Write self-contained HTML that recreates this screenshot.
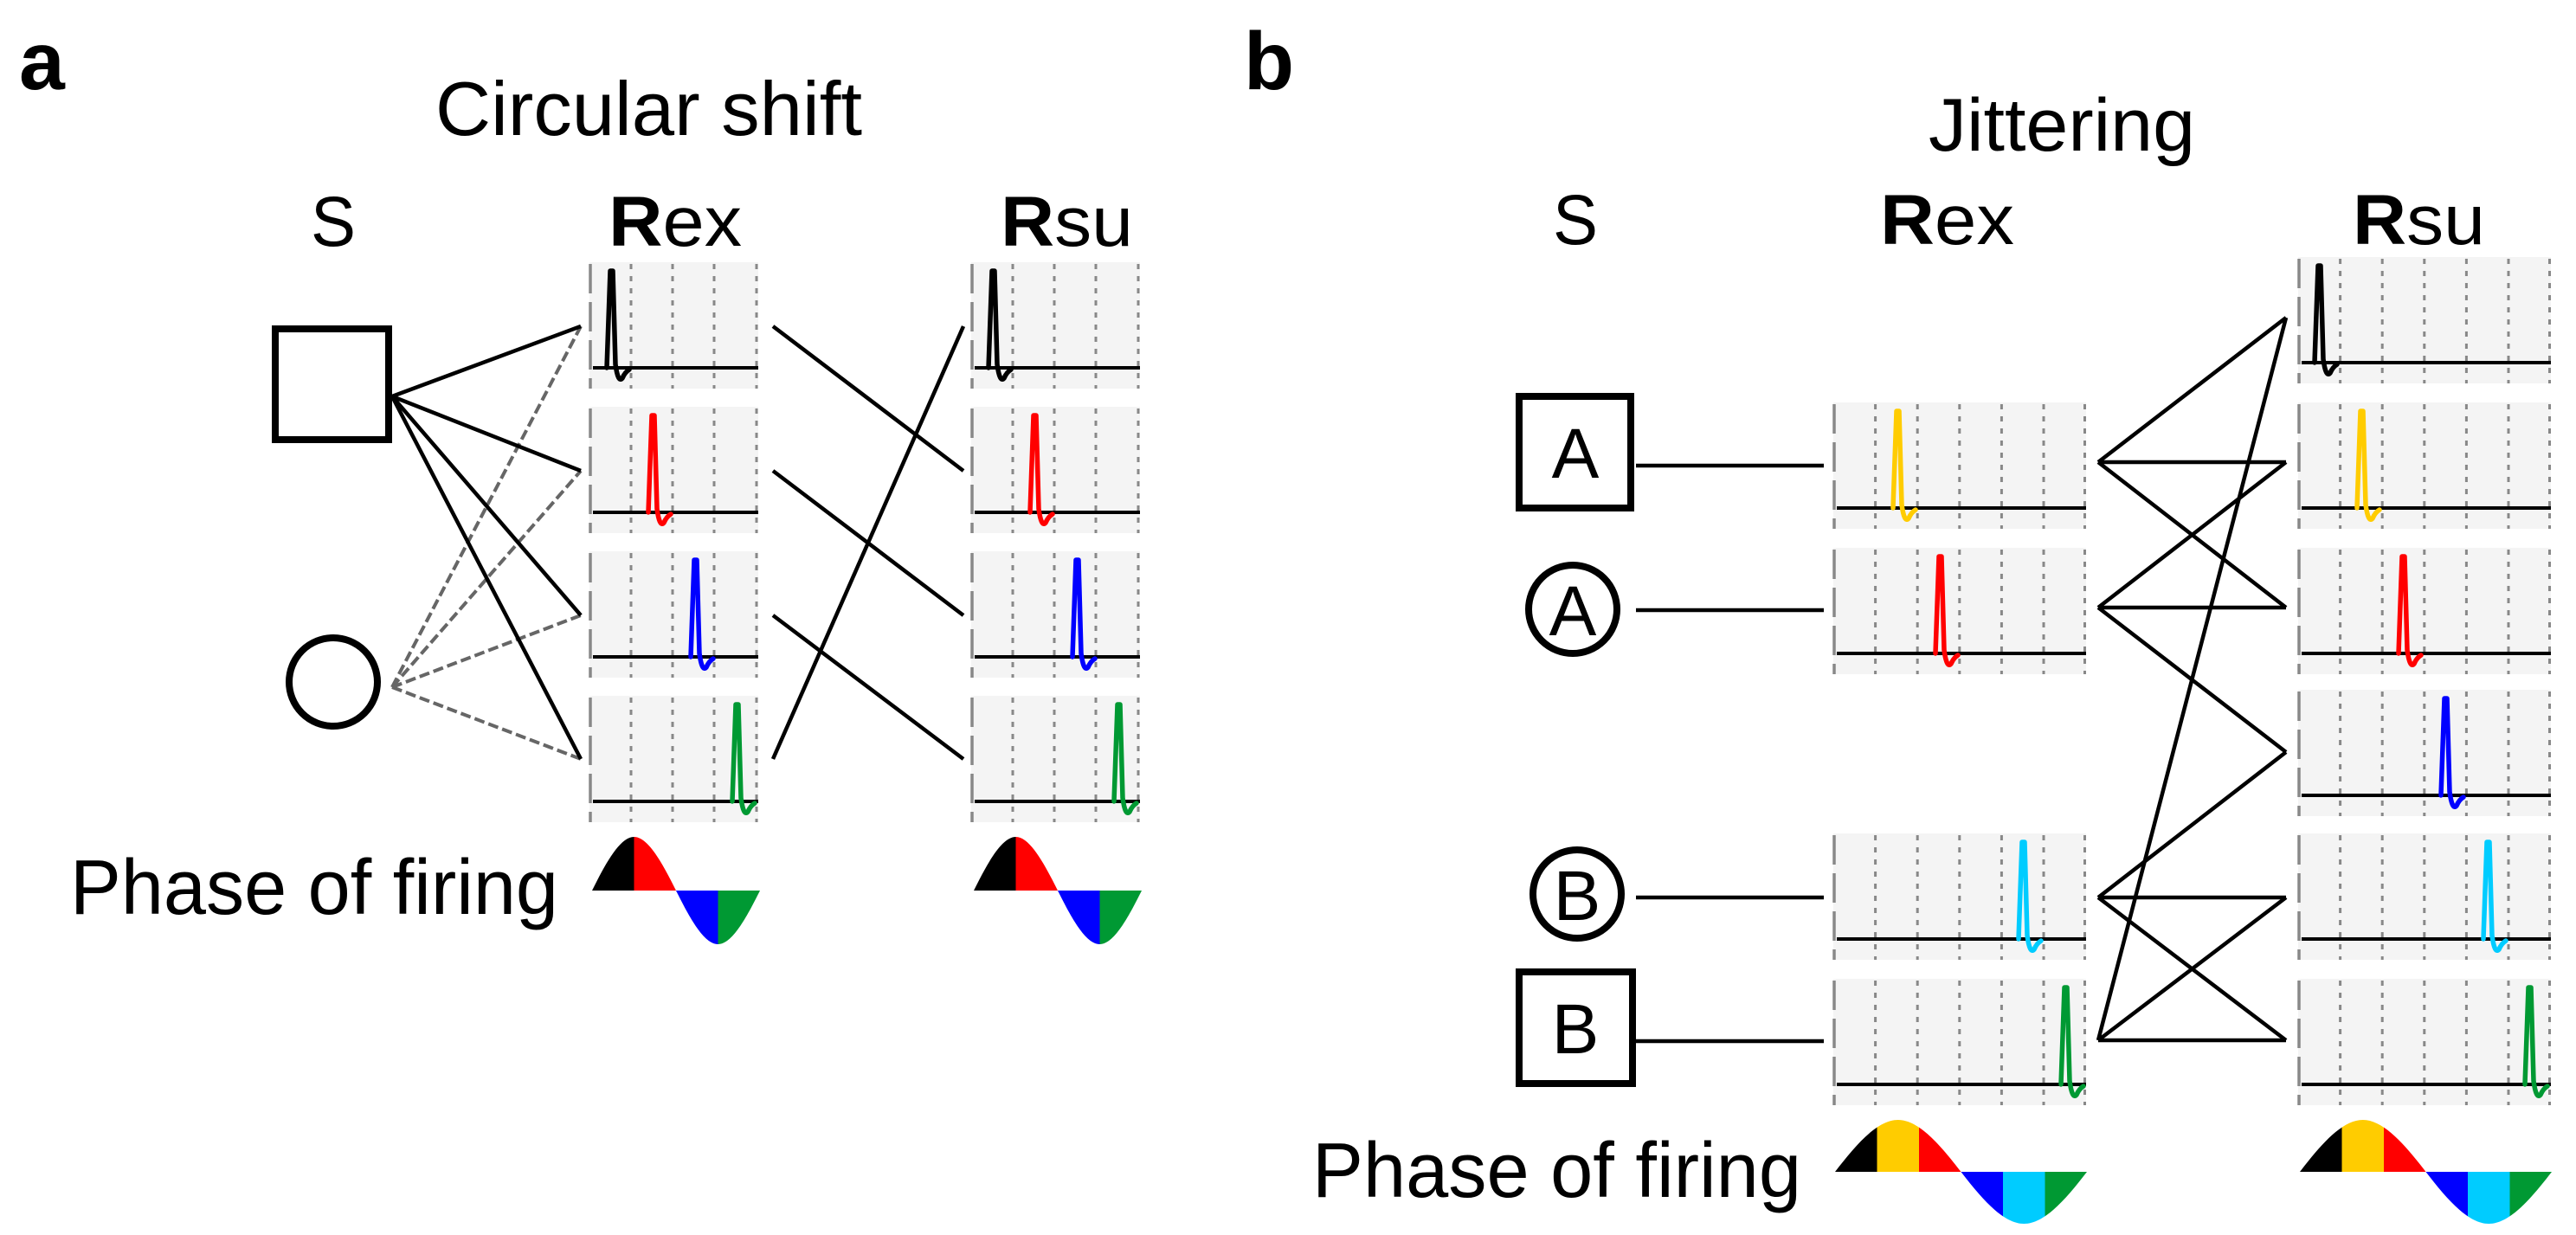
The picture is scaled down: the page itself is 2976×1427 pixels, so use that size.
<!DOCTYPE html>
<html><head><meta charset="utf-8"><style>html,body{margin:0;padding:0;background:#fff}svg{display:block}</style></head>
<body>
<svg width="2976" height="1427" viewBox="0 0 2976 1427" xmlns="http://www.w3.org/2000/svg" font-family="'Liberation Sans', sans-serif">
<defs>
<g id="pa">
<rect x="0" y="0" width="195" height="146" fill="#f4f4f4"/>
<g stroke="#888" stroke-width="3" stroke-dasharray="6 8">
<line x1="48" y1="2" x2="48" y2="146"/><line x1="96" y1="2" x2="96" y2="146"/><line x1="144" y1="2" x2="144" y2="146"/><line x1="193" y1="2" x2="193" y2="146"/>
</g>
<line x1="1" y1="2" x2="1" y2="146" stroke="#888" stroke-width="3.5" stroke-dasharray="34 10"/>
<line x1="4" y1="122" x2="195" y2="122" stroke="#000" stroke-width="4"/>
</g>
<g id="pb">
<rect x="0" y="0" width="292" height="146" fill="#f4f4f4"/>
<g stroke="#888" stroke-width="3" stroke-dasharray="6 8">
<line x1="48.6" y1="2" x2="48.6" y2="146"/><line x1="97.2" y1="2" x2="97.2" y2="146"/><line x1="145.8" y1="2" x2="145.8" y2="146"/><line x1="194.4" y1="2" x2="194.4" y2="146"/><line x1="243" y1="2" x2="243" y2="146"/><line x1="290.5" y1="2" x2="290.5" y2="146"/>
</g>
<line x1="1" y1="2" x2="1" y2="146" stroke="#888" stroke-width="3.5" stroke-dasharray="34 10"/>
<line x1="4" y1="122" x2="292" y2="122" stroke="#000" stroke-width="4"/>
</g>
<path id="sp" d="M-6 0 L-2 -112 L1 -112 L4 -4 Q7 18 12 12 Q15 5 20 2" fill="none" stroke-width="5.5" stroke-linejoin="round" stroke-linecap="round"/>
<clipPath id="sa"><path d="M684 1029 C699.82 997.24, 716.33 967, 732.5 967 C748.67 967, 765.18 997.24, 781 1029 C796.82 1060.76, 813.33 1091, 829.5 1091 C845.67 1091, 862.18 1060.76, 878 1029 Z"/></clipPath>
<clipPath id="sb"><path d="M2120 1354 C2143.72 1323.26, 2168.5 1294, 2192.75 1294 C2217 1294, 2241.78 1323.26, 2265.5 1354 C2289.22 1384.74, 2314 1414, 2338.25 1414 C2362.5 1414, 2387.28 1384.74, 2411 1354 Z"/></clipPath>
<g id="sinea" clip-path="url(#sa)">
<rect x="684" y="960" width="49" height="140" fill="#000"/>
<rect x="732.5" y="960" width="49" height="140" fill="#ff0000"/>
<rect x="781" y="960" width="49" height="140" fill="#0000ff"/>
<rect x="829.5" y="960" width="49" height="140" fill="#009933"/>
</g>
<g id="sineb" clip-path="url(#sb)">
<rect x="2120" y="1290" width="49" height="130" fill="#000"/>
<rect x="2168.5" y="1290" width="49" height="130" fill="#ffcc00"/>
<rect x="2217" y="1290" width="49" height="130" fill="#ff0000"/>
<rect x="2265.5" y="1290" width="49" height="130" fill="#0000ff"/>
<rect x="2314" y="1290" width="49" height="130" fill="#00ccff"/>
<rect x="2362.5" y="1290" width="49" height="130" fill="#009933"/>
</g>
</defs>

<!-- Panel a -->
<text x="22" y="103" font-size="95" font-weight="bold">a</text>
<text x="503" y="156" font-size="88" textLength="493" lengthAdjust="spacingAndGlyphs">Circular shift</text>
<text x="359" y="284" font-size="82" textLength="52" lengthAdjust="spacingAndGlyphs">S</text>
<text x="703" y="284" font-size="82" textLength="154" lengthAdjust="spacingAndGlyphs"><tspan font-weight="bold">R</tspan>ex</text>
<text x="1156" y="284" font-size="82" textLength="153" lengthAdjust="spacingAndGlyphs"><tspan font-weight="bold">R</tspan>su</text>

<rect x="318" y="380" width="131" height="128" fill="none" stroke="#000" stroke-width="8"/>
<circle cx="385" cy="788" r="51" fill="none" stroke="#000" stroke-width="8"/>

<use href="#pa" x="681" y="303"/><use href="#pa" x="681" y="470"/><use href="#pa" x="681" y="637"/><use href="#pa" x="681" y="804"/>
<use href="#pa" x="1122" y="303"/><use href="#pa" x="1122" y="470"/><use href="#pa" x="1122" y="637"/><use href="#pa" x="1122" y="804"/>

<use href="#sp" x="707" y="425" stroke="#000"/>
<use href="#sp" x="755" y="592" stroke="#ff0000"/>
<use href="#sp" x="804" y="759" stroke="#0000ff"/>
<use href="#sp" x="852" y="926" stroke="#009933"/>
<use href="#sp" x="1148" y="425" stroke="#000"/>
<use href="#sp" x="1196" y="592" stroke="#ff0000"/>
<use href="#sp" x="1245" y="759" stroke="#0000ff"/>
<use href="#sp" x="1293" y="926" stroke="#009933"/>

<g stroke="#666" stroke-width="4" stroke-dasharray="12 5">
<line x1="453" y1="794" x2="671" y2="377"/><line x1="453" y1="794" x2="671" y2="544"/><line x1="453" y1="794" x2="671" y2="711"/><line x1="453" y1="794" x2="671" y2="877"/>
</g>
<g stroke="#000" stroke-width="4.5">
<line x1="453" y1="458" x2="671" y2="377"/><line x1="453" y1="458" x2="671" y2="544"/><line x1="453" y1="458" x2="671" y2="711"/><line x1="453" y1="458" x2="671" y2="877"/>
<line x1="893" y1="377" x2="1113" y2="544"/><line x1="893" y1="544" x2="1113" y2="711"/><line x1="893" y1="711" x2="1113" y2="877"/><line x1="893" y1="877" x2="1113" y2="377"/>
</g>

<text x="81" y="1056" font-size="90" textLength="564" lengthAdjust="spacingAndGlyphs">Phase of firing</text>
<use href="#sinea"/>
<use href="#sinea" transform="translate(441,0)"/>

<!-- Panel b -->
<text x="1437" y="103" font-size="95" font-weight="bold">b</text>
<text x="2228" y="174" font-size="86" textLength="308" lengthAdjust="spacingAndGlyphs">Jittering</text>
<text x="1794" y="282" font-size="82" textLength="52" lengthAdjust="spacingAndGlyphs">S</text>
<text x="2172" y="282" font-size="82" textLength="155" lengthAdjust="spacingAndGlyphs"><tspan font-weight="bold">R</tspan>ex</text>
<text x="2718" y="282" font-size="82" textLength="153" lengthAdjust="spacingAndGlyphs"><tspan font-weight="bold">R</tspan>su</text>

<rect x="1755" y="458" width="129" height="129" fill="none" stroke="#000" stroke-width="8"/>
<text x="1820" y="552" font-size="82" text-anchor="middle">A</text>
<circle cx="1817" cy="704" r="51" fill="none" stroke="#000" stroke-width="8"/>
<text x="1817" y="734" font-size="82" text-anchor="middle">A</text>
<circle cx="1822" cy="1033" r="51" fill="none" stroke="#000" stroke-width="8"/>
<text x="1822" y="1063" font-size="82" text-anchor="middle">B</text>
<rect x="1755" y="1123" width="131" height="129" fill="none" stroke="#000" stroke-width="8"/>
<text x="1820" y="1217" font-size="82" text-anchor="middle">B</text>

<use href="#pb" x="2118" y="465"/><use href="#pb" x="2118" y="633"/><use href="#pb" x="2118" y="963"/><use href="#pb" x="2118" y="1131"/>
<use href="#pb" x="2655" y="297"/><use href="#pb" x="2655" y="465"/><use href="#pb" x="2655" y="633"/><use href="#pb" x="2655" y="797"/><use href="#pb" x="2655" y="963"/><use href="#pb" x="2655" y="1131"/>

<use href="#sp" x="2193" y="587" stroke="#ffcc00"/>
<use href="#sp" x="2242" y="755" stroke="#ff0000"/>
<use href="#sp" x="2338" y="1085" stroke="#00ccff"/>
<use href="#sp" x="2387" y="1253" stroke="#009933"/>
<use href="#sp" x="2680" y="419" stroke="#000"/>
<use href="#sp" x="2729" y="587" stroke="#ffcc00"/>
<use href="#sp" x="2777" y="755" stroke="#ff0000"/>
<use href="#sp" x="2826" y="919" stroke="#0000ff"/>
<use href="#sp" x="2875" y="1085" stroke="#00ccff"/>
<use href="#sp" x="2923" y="1253" stroke="#009933"/>

<g stroke="#000" stroke-width="4.5" fill="none">
<line x1="1890" y1="538" x2="2107" y2="538"/><line x1="1890" y1="705" x2="2107" y2="705"/><line x1="1890" y1="1037" x2="2107" y2="1037"/><line x1="1890" y1="1203" x2="2107" y2="1203"/>
<line x1="2424" y1="534" x2="2641" y2="367"/><line x1="2424" y1="534" x2="2641" y2="534"/><line x1="2424" y1="534" x2="2641" y2="702"/>
<line x1="2424" y1="702" x2="2641" y2="534"/><line x1="2424" y1="702" x2="2641" y2="702"/><line x1="2424" y1="702" x2="2641" y2="869"/>
<line x1="2424" y1="1037" x2="2641" y2="869"/><line x1="2424" y1="1037" x2="2641" y2="1037"/><line x1="2424" y1="1037" x2="2641" y2="1202"/>
<line x1="2424" y1="1202" x2="2641" y2="1037"/><line x1="2424" y1="1202" x2="2641" y2="1202"/><line x1="2424" y1="1202" x2="2641" y2="367"/>
</g>

<text x="1516" y="1383" font-size="90" textLength="565" lengthAdjust="spacingAndGlyphs">Phase of firing</text>
<use href="#sineb"/>
<use href="#sineb" transform="translate(537,0)"/>
</svg>
</body></html>
